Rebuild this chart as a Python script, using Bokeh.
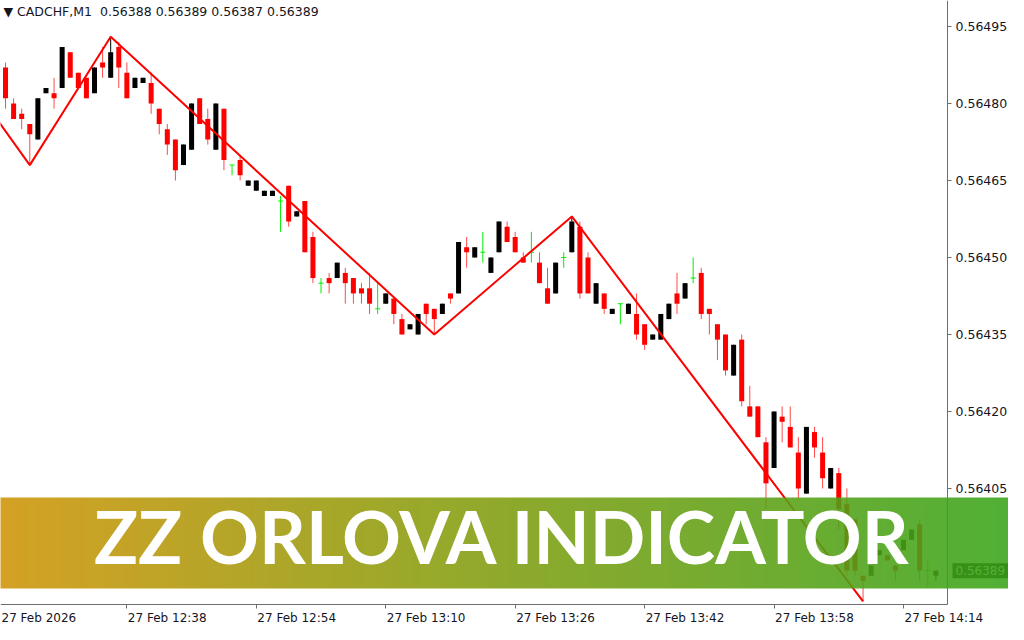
import numpy as np
from bokeh.plotting import figure
from bokeh.models import (Range1d, FixedTicker, NumeralTickFormatter, Label,
                          LinearAxis, ColumnDataSource)
from bokeh.embed import file_html
from bokeh.resources import INLINE

# ---------------- data ----------------
symbol = "CADCHF,M1"
last_price = 0.56389

opens = [
    0.56487, 0.56480, 0.56478, 0.56476, 0.56473, 0.56482, 0.56482, 0.56483, 0.56490, 0.56486,
    0.56485, 0.56482, 0.56488, 0.56485, 0.56491, 0.56486, 0.56483, 0.56484, 0.56484, 0.56479,
    0.56475, 0.56473, 0.56468, 0.56471, 0.56481, 0.56477, 0.56471, 0.56479, 0.56468, 0.56469,
    0.56464, 0.56463, 0.56462, 0.56462, 0.56461, 0.56464, 0.56458, 0.56461, 0.56454, 0.56445,
    0.56446, 0.56446, 0.56447, 0.56446, 0.56444, 0.56444, 0.56440, 0.56441, 0.56442, 0.56438,
    0.56436, 0.56435, 0.56441, 0.56440, 0.56439, 0.56443, 0.56443, 0.56452, 0.56450, 0.56451,
    0.56447, 0.56451, 0.56456, 0.56454, 0.56450, 0.56451, 0.56449, 0.56444, 0.56443, 0.56450,
    0.56451, 0.56456, 0.56450, 0.56441, 0.56443, 0.56439, 0.56441, 0.56439, 0.56439, 0.56437,
    0.56434, 0.56434, 0.56438, 0.56443, 0.56442, 0.56446, 0.56447, 0.56440, 0.56437, 0.56435,
    0.56427, 0.56434, 0.56421, 0.56421, 0.56414, 0.56409, 0.56419, 0.56417, 0.56412, 0.56404,
    0.56416, 0.56412, 0.56405, 0.56408, 0.56402, 0.56399, 0.56388, 0.56388, 0.56392, 0.56392,
    0.56390, 0.56393, 0.56395, 0.56398, 0.56389, 0.56388]

highs = [
    0.56488, 0.56481, 0.56479, 0.56476, 0.56481, 0.56483, 0.56485, 0.56491, 0.56490, 0.56486,
    0.56485, 0.56487, 0.56491, 0.56493, 0.56492, 0.56488, 0.56485, 0.56485, 0.56486, 0.56479,
    0.56476, 0.56473, 0.56472, 0.56480, 0.56481, 0.56479, 0.56480, 0.56479, 0.56468, 0.56470,
    0.56465, 0.56465, 0.56463, 0.56463, 0.56462, 0.56464, 0.56459, 0.56461, 0.56455, 0.56446,
    0.56447, 0.56449, 0.56448, 0.56446, 0.56445, 0.56447, 0.56445, 0.56443, 0.56442, 0.56439,
    0.56437, 0.56439, 0.56441, 0.56440, 0.56441, 0.56443, 0.56453, 0.56454, 0.56452, 0.56455,
    0.56450, 0.56457, 0.56457, 0.56455, 0.56451, 0.56455, 0.56451, 0.56448, 0.56449, 0.56451,
    0.56458, 0.56457, 0.56451, 0.56445, 0.56443, 0.56440, 0.56441, 0.56441, 0.56443, 0.56437,
    0.56435, 0.56439, 0.56441, 0.56447, 0.56445, 0.56450, 0.56448, 0.56440, 0.56437, 0.56435,
    0.56433, 0.56435, 0.56425, 0.56421, 0.56415, 0.56420, 0.56421, 0.56421, 0.56415, 0.56417,
    0.56417, 0.56415, 0.56409, 0.56409, 0.56405, 0.56399, 0.56388, 0.56390, 0.56393, 0.56392,
    0.56390, 0.56395, 0.56397, 0.56399, 0.56391, 0.56389]

lows = [
    0.56479, 0.56477, 0.56475, 0.56468, 0.56473, 0.56482, 0.56479, 0.56483, 0.56485, 0.56483,
    0.56481, 0.56482, 0.56485, 0.56485, 0.56483, 0.56481, 0.56483, 0.56484, 0.56478, 0.56474,
    0.56470, 0.56465, 0.56468, 0.56471, 0.56476, 0.56472, 0.56471, 0.56467, 0.56466, 0.56465,
    0.56464, 0.56463, 0.56462, 0.56462, 0.56455, 0.56456, 0.56458, 0.56451, 0.56445, 0.56443,
    0.56443, 0.56446, 0.56441, 0.56441, 0.56441, 0.56439, 0.56439, 0.56441, 0.56437, 0.56435,
    0.56436, 0.56435, 0.56437, 0.56435, 0.56439, 0.56441, 0.56443, 0.56448, 0.56450, 0.56449,
    0.56447, 0.56451, 0.56453, 0.56451, 0.56449, 0.56449, 0.56445, 0.56441, 0.56443, 0.56448,
    0.56451, 0.56442, 0.56443, 0.56441, 0.56439, 0.56439, 0.56437, 0.56439, 0.56434, 0.56432,
    0.56434, 0.56434, 0.56438, 0.56439, 0.56442, 0.56445, 0.56438, 0.56435, 0.56430, 0.56427,
    0.56427, 0.56421, 0.56419, 0.56415, 0.56401, 0.56409, 0.56414, 0.56413, 0.56403, 0.56404,
    0.56411, 0.56405, 0.56405, 0.56397, 0.56388, 0.56388, 0.56383, 0.56388, 0.56392, 0.56391,
    0.56387, 0.56393, 0.56395, 0.56387, 0.56386, 0.56387]

closes = [
    0.56481, 0.56477, 0.56477, 0.56474, 0.56481, 0.56483, 0.56481, 0.56491, 0.56485, 0.56483,
    0.56481, 0.56487, 0.56487, 0.56490, 0.56487, 0.56481, 0.56485, 0.56485, 0.56480, 0.56476,
    0.56472, 0.56467, 0.56472, 0.56480, 0.56476, 0.56473, 0.56480, 0.56469, 0.56468, 0.56466,
    0.56465, 0.56465, 0.56463, 0.56463, 0.56461, 0.56457, 0.56459, 0.56451, 0.56446, 0.56445,
    0.56445, 0.56449, 0.56445, 0.56443, 0.56443, 0.56441, 0.56440, 0.56443, 0.56439, 0.56435,
    0.56437, 0.56439, 0.56439, 0.56438, 0.56441, 0.56442, 0.56453, 0.56451, 0.56452, 0.56451,
    0.56450, 0.56457, 0.56453, 0.56451, 0.56449, 0.56451, 0.56445, 0.56441, 0.56449, 0.56450,
    0.56457, 0.56443, 0.56443, 0.56445, 0.56440, 0.56440, 0.56441, 0.56441, 0.56435, 0.56433,
    0.56435, 0.56439, 0.56441, 0.56441, 0.56445, 0.56446, 0.56439, 0.56439, 0.56434, 0.56428,
    0.56433, 0.56422, 0.56419, 0.56415, 0.56406, 0.56420, 0.56418, 0.56413, 0.56405, 0.56417,
    0.56413, 0.56407, 0.56409, 0.56401, 0.56389, 0.56389, 0.56387, 0.56390, 0.56393, 0.56391,
    0.56389, 0.56395, 0.56397, 0.56389, 0.56389, 0.56389]

# ZigZag (ZZ Orlova) turning points: bar index and price
zz_idx = [-2, 3, 13, 53, 70, 106]
zz_price = [0.56479, 0.56468, 0.56493, 0.56435, 0.56458, 0.56383]

# time axis labels (bar index -> label)
time_tick_idx = [-1, 15, 31, 47, 63, 79, 95, 111]
time_tick_labels = ["27 Feb 2026", "27 Feb 12:38", "27 Feb 12:54", "27 Feb 13:10",
                    "27 Feb 13:26", "27 Feb 13:42", "27 Feb 13:58", "27 Feb 14:14"]

price_ticks = [0.56405, 0.56420, 0.56435, 0.56450, 0.56465, 0.56480, 0.56495]

banner_text = "ZZ ORLOVA INDICATOR"

# ---------------- layout constants (pixels) ----------------
W, H = 1008, 624
PX_PER_BAR = 8.09
PX_PER_PRICE = 77 / 0.00015
X_START = -0.62
Y_END = 0.56495 + 26 / PX_PER_PRICE
X_END = X_START + W / PX_PER_BAR
Y_START = Y_END - H / PX_PER_PRICE


def bar_at(px):
    return X_START + px / PX_PER_BAR


def price_at(py):
    return Y_END - py / PX_PER_PRICE


SCALE_X = bar_at(947)       # price scale line
TIME_Y = price_at(604)      # time scale line

# ---------------- build sources ----------------
BEAR = "#ff0000"
BULL = "#000000"
DOJI = "#00ee00"
WICK_BEAR = "#ff4a4a"

idx = list(range(len(opens)))
body = dict(x=[], top=[], bottom=[], color=[])
wick = dict(x=[], y0=[], y1=[], color=[])
doji = dict(x=[], y=[], hi=[], lo=[])
for i, o, h, l, c in zip(idx, opens, highs, lows, closes):
    if c > o:
        body["x"].append(i); body["top"].append(c); body["bottom"].append(o); body["color"].append(BULL)
        wick["x"].append(i); wick["y0"].append(h); wick["y1"].append(l); wick["color"].append(BULL)
    elif c < o:
        body["x"].append(i); body["top"].append(o); body["bottom"].append(c); body["color"].append(BEAR)
        wick["x"].append(i); wick["y0"].append(h); wick["y1"].append(l); wick["color"].append(WICK_BEAR)
    else:
        doji["x"].append(i); doji["y"].append(o); doji["hi"].append(h); doji["lo"].append(l)

body_src = ColumnDataSource(body)
wick_src = ColumnDataSource(wick)
doji_src = ColumnDataSource(doji)

# ---------------- figure ----------------
p = figure(width=W, height=H, output_backend="svg", toolbar_location=None,
           x_range=Range1d(X_START, X_END), y_range=Range1d(Y_START, Y_END),
           x_axis_location=None, y_axis_location=None,
           min_border=0, min_border_left=0, min_border_right=0,
           min_border_top=0, min_border_bottom=0)
p.grid.visible = False
p.outline_line_color = None
p.background_fill_color = "white"
p.border_fill_color = "white"

LABEL_FONT = "DejaVu Sans"
LABEL_SIZE = "12.5px"
TIME_SIZE = "12px"
LABEL_COLOR = "#15151f"
AXIS_COLOR = "#6e6e6e"

ya = LinearAxis(fixed_location=SCALE_X, bounds=(TIME_Y, Y_END),
                ticker=FixedTicker(ticks=price_ticks),
                formatter=NumeralTickFormatter(format="0.00000"))
ya.axis_line_color = AXIS_COLOR
ya.major_tick_line_color = AXIS_COLOR
ya.major_tick_in = 0
ya.major_tick_out = 4
ya.minor_tick_line_color = None
ya.major_label_text_font = LABEL_FONT
ya.major_label_text_font_size = LABEL_SIZE
ya.major_label_text_color = LABEL_COLOR
ya.major_label_standoff = 4
p.add_layout(ya, "right")

xa = LinearAxis(fixed_location=TIME_Y, bounds=(X_START, SCALE_X),
                ticker=FixedTicker(ticks=time_tick_idx[1:]))
xa.major_label_overrides = {t: "" for t in time_tick_idx}
xa.axis_line_color = AXIS_COLOR
xa.major_tick_line_color = AXIS_COLOR
xa.major_tick_in = 0
xa.major_tick_out = 4
xa.minor_tick_line_color = None
xa.major_label_text_font_size = "1px"
p.add_layout(xa, "below")

# candles
p.segment(x0="x", y0="y0", x1="x", y1="y1", color="color", line_width=1, source=wick_src)
p.vbar(x="x", top="top", bottom="bottom", width=0.62, fill_color="color",
       line_color=None, source=body_src)
p.segment(x0="x", y0="hi", x1="x", y1="lo", color=DOJI, line_width=1, source=doji_src)
p.rect(x="x", y="y", width=0.62, height=1, height_units="screen", fill_color=DOJI,
       line_color=None, source=doji_src)

# zigzag
p.line(zz_idx, zz_price, line_color="#ff0000", line_width=2)

# time labels, left aligned at their tick (MetaTrader style)
for t, lab in zip(time_tick_idx, time_tick_labels):
    p.add_layout(Label(x=max(t, X_START), y=H - 610, x_units="data", y_units="screen", text=lab,
                       text_align="left", text_baseline="top", x_offset=1,
                       text_font=LABEL_FONT, text_font_size=TIME_SIZE,
                       text_color=LABEL_COLOR))

# header
header = "\u25bc " + symbol + "\u00a0 " + " ".join(
    f"{v:.5f}" for v in (opens[-1], highs[-1], lows[-1], closes[-1]))
p.add_layout(Label(x=3, y=H - 3, x_units="screen", y_units="screen", text=header,
                   text_align="left", text_baseline="top", text_font=LABEL_FONT,
                   text_font_size=LABEL_SIZE, text_color=LABEL_COLOR))

# current price box on the price scale
p.add_layout(Label(x=952, y=last_price, x_units="screen", y_units="data",
                   text=f"{last_price:.5f}", text_align="left", text_baseline="middle",
                   text_font=LABEL_FONT, text_font_size="12px", text_color="white",
                   background_fill_color="black", padding=3, level="guide"))

# banner: semi-transparent horizontal gradient
stops = [(0.0, (207, 149, 7)), (0.5, (127, 158, 16)), (1.0, (58, 164, 27))]
NCOL = W
img = np.empty((1, NCOL), dtype=np.uint32)
view = img.view(dtype=np.uint8).reshape((1, NCOL, 4))
for k in range(NCOL):
    f = (k + 0.5) / NCOL
    for (f0, c0), (f1, c1) in zip(stops[:-1], stops[1:]):
        if f0 <= f <= f1:
            t = (f - f0) / (f1 - f0)
            rgb = [int(round(a + (b - a) * t)) for a, b in zip(c0, c1)]
            break
    view[0, k, 0], view[0, k, 1], view[0, k, 2] = rgb
    view[0, k, 3] = 225

b_top = price_at(497)
b_bot = price_at(588)
banner = p.image_rgba(image=[img], x=X_START, y=b_bot, dw=X_END - X_START, dh=b_top - b_bot)
banner.level = "annotation"

p.add_layout(Label(x=502, y=89, x_units="screen", y_units="screen",
                   text=banner_text, text_align="center", text_baseline="middle",
                   text_font="Lato", text_font_style="bold", text_font_size="73px",
                   text_color="white", level="overlay"))

open("out.html", "w").write(file_html(p, INLINE))
